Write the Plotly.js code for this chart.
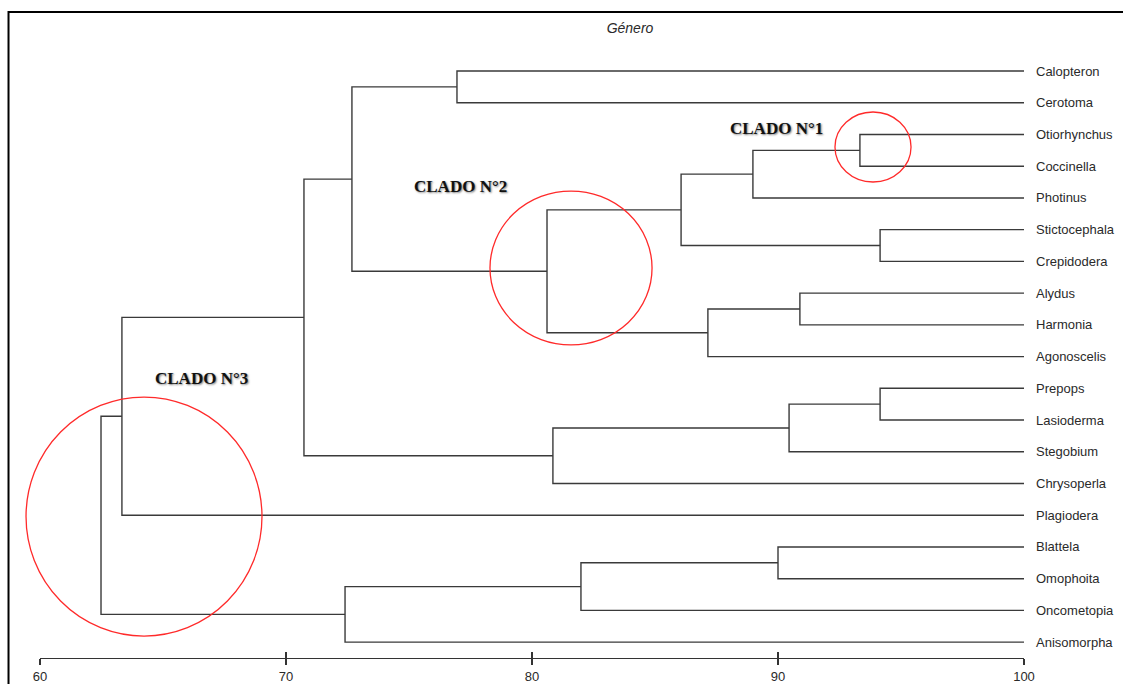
<!DOCTYPE html>
<html>
<head>
<meta charset="utf-8">
<script src="https://cdn.plot.ly/plotly-3.0.1.min.js"></script>
<style>html,body{margin:0;padding:0;background:#fff;}#chart{width:1123px;height:684px;}</style>
</head>
<body>
<div id="chart"></div>
<script>
// Leaves in display order (top to bottom)
const leaves = ["Calopteron","Cerotoma","Otiorhynchus","Coccinella","Photinus","Stictocephala","Crepidodera","Alydus","Harmonia","Agonoscelis","Prepops","Lasioderma","Stegobium","Chrysoperla","Plagiodera","Blattela","Omophoita","Oncometopia","Anisomorpha"];
const leafHeight = 100;
// Merges: node ids 0..18 are leaves, new nodes numbered from 19 in order
const mergeA = [2, 5, 10, 19, 22, 7, 24, 23, 0, 27, 21, 29, 28, 31, 15, 33, 34, 32];
const mergeB = [3, 6, 11, 4, 20, 8, 9, 25, 1, 26, 12, 13, 30, 14, 16, 17, 18, 35];
const mergeHeight = [93.33, 94.15, 94.15, 88.98, 86.06, 90.89, 87.15, 80.61, 76.95, 72.68, 90.45, 80.85, 70.73, 63.33, 90.0, 81.99, 72.40, 62.48];
const axisTicks = [60, 70, 80, 90, 100];
const cladeLabels = ["CLADO N°1", "CLADO N°2", "CLADO N°3"];

// build dendrogram path
const nodeX = [], nodeY = [];
leaves.forEach((l, i) => { nodeX.push(leafHeight); nodeY.push(i); });
const lx = [], ly = [];
for (let k = 0; k < mergeA.length; k++) {
  const a = mergeA[k], b = mergeB[k], h = mergeHeight[k];
  lx.push(nodeX[a], h, h, nodeX[b], null);
  ly.push(nodeY[a], nodeY[a], nodeY[b], nodeY[b], null);
  nodeX.push(h); nodeY.push((nodeY[a] + nodeY[b]) / 2);
}

const traces = [{
  x: lx, y: ly, mode: "lines", type: "scatter",
  line: {color: "#3a3a3a", width: 1.4}, hoverinfo: "skip", showlegend: false, cliponaxis: false
}];

const annotations = leaves.map((name, i) => ({
  x: leafHeight, y: i, xref: "x", yref: "y", text: name, showarrow: false,
  xanchor: "left", yanchor: "middle", xshift: 10,
  font: {family: "Liberation Sans, Arial", size: 13, color: "#2a2a2a"}
}));

const cladePos = [[0.748, 0.855], [0.427, 0.761], [0.164, 0.451]];
cladeLabels.forEach((t, i) => annotations.push({
  x: cladePos[i][0], y: cladePos[i][1], xref: "paper", yref: "paper", text: "<b>" + t + "</b>",
  showarrow: false, xanchor: "center", yanchor: "middle",
  font: {family: "Liberation Serif, Times New Roman", size: 17, color: "#111", shadow: "1px 1px 2px rgba(0,0,0,0.5)"}
}));

const circles = [
  [0.8079, 0.7690, 0.8852, 0.8821],
  [0.4573, 0.5057, 0.6220, 0.7544],
  [-0.0142, 0.0355, 0.2256, 0.4216]
];
const shapes = circles.map(c => ({
  type: "circle", xref: "paper", yref: "paper", x0: c[0], y0: c[1], x1: c[2], y1: c[3],
  line: {color: "#ff2a2a", width: 1.3}, layer: "above"
}));
shapes.push({type: "rect", xref: "paper", yref: "paper", x0: -0.032, x1: 1.3, y0: -0.3, y1: 1.0436,
  line: {color: "#000", width: 2}, layer: "above"});

const layout = {
  width: 1123, height: 684,
  margin: {l: 40, r: 99, t: 39, b: 26},
  paper_bgcolor: "#fff", plot_bgcolor: "#fff",
  title: {text: "<i>Género</i>", x: 0.561, xref: "container", xanchor: "center", y: 0.959, yref: "container", yanchor: "middle",
    font: {family: "Liberation Sans, Arial", size: 14, color: "#2a2a2a"}},
  xaxis: {range: [60, 100], showgrid: false, zeroline: false, showline: true, linecolor: "#333", linewidth: 1.2,
    ticks: "outside", ticklen: 6, tickwidth: 1.2, tickcolor: "#333", tickvals: axisTicks, ticktext: axisTicks.map(String),
    tickfont: {family: "Liberation Sans, Arial", size: 13, color: "#2a2a2a"}, fixedrange: true},
  xaxis2: {range: [60, 100], overlaying: "x", anchor: "y", side: "bottom", showgrid: false, zeroline: false,
    showline: false, ticks: "inside", ticklen: 6, tickwidth: 1.2, tickcolor: "#333", tickvals: axisTicks, showticklabels: false},
  yaxis: {range: [18.5, -1.009], visible: false, showgrid: false, zeroline: false, fixedrange: true},
  annotations: annotations, shapes: shapes, showlegend: false
};
traces.push({x: [60, 100], y: [null, null], xaxis: "x2", yaxis: "y", mode: "lines", showlegend: false, hoverinfo: "skip"});
Plotly.newPlot("chart", traces, layout, {displayModeBar: false, staticPlot: true});
</script>
</body>
</html>
